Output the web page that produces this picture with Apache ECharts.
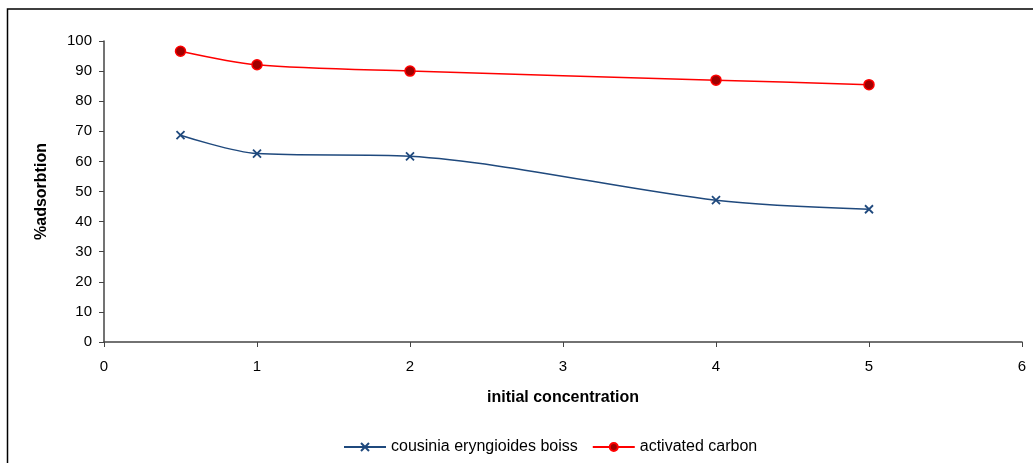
<!DOCTYPE html>
<html>
<head>
<meta charset="utf-8">
<script src="https://cdn.jsdelivr.net/npm/echarts@6/dist/echarts.min.js"></script>
<style>
html,body{margin:0;padding:0;background:#fff;}
#main{width:1033px;height:463px;}
</style>
</head>
<body>
<div id="main"></div>
<script>
var xValues = [0.5, 1, 2, 4, 5];
var cousinia = [68.7, 62.6, 61.7, 47.1, 44.1];
var carbon = [96.6, 92.1, 90.0, 87.0, 85.5];
var seriesNames = ['cousinia eryngioides boiss', 'activated carbon'];

function pairs(xs, ys) {
    var out = [];
    for (var i = 0; i < xs.length; i++) out.push([xs[i], ys[i]]);
    return out;
}

var crossPath = 'path://M0,0L10,10M10,0L0,10';

var chart = echarts.init(document.getElementById('main'));
var option = {
    animation: false,
    textStyle: { fontFamily: 'Liberation Sans, Arial, sans-serif' },
    graphic: [{
        type: 'rect',
        shape: { x: 7.5, y: 9, width: 1040, height: 470 },
        style: { fill: 'none', stroke: '#000', lineWidth: 1.5 }
    }],
    grid: { left: 104, top: 41, right: 11, bottom: 121 },
    legend: {
        bottom: 3,
        left: 338,
        itemWidth: 42,
        itemHeight: 10,
        itemGap: 14,
        textStyle: { fontSize: 16, color: '#000' },
        data: seriesNames
    },
    xAxis: {
        type: 'value',
        min: 0, max: 6, interval: 1,
        name: 'initial concentration',
        nameLocation: 'middle',
        nameGap: 48,
        nameTextStyle: { fontWeight: 'bold', fontSize: 16, color: '#000' },
        axisLine: { lineStyle: { color: '#444', width: 1.5 } },
        axisTick: { show: true, inside: false, length: 5, lineStyle: { color: '#444' } },
        axisLabel: { fontSize: 15, color: '#000', margin: 17 },
        splitLine: { show: false }
    },
    yAxis: {
        type: 'value',
        min: 0, max: 100, interval: 10,
        name: '%adsorbtion',
        nameLocation: 'middle',
        nameGap: 54,
        nameRotate: 90,
        nameTextStyle: { fontWeight: 'bold', fontSize: 16, color: '#000' },
        axisLine: { show: true, lineStyle: { color: '#444', width: 1.5 } },
        axisTick: { show: true, length: 5, lineStyle: { color: '#444' } },
        axisLabel: { fontSize: 15, color: '#000', margin: 12 },
        splitLine: { show: false }
    },
    series: [{
        name: seriesNames[0],
        type: 'line',
        smooth: 0.3,
        data: pairs(xValues, cousinia),
        symbol: crossPath,
        symbolSize: 8,
        lineStyle: { color: '#1F497D', width: 1.5 },
        itemStyle: { color: '#1F497D', borderColor: '#1F497D', borderWidth: 1.8 }
    }, {
        name: seriesNames[1],
        type: 'line',
        smooth: 0.3,
        data: pairs(xValues, carbon),
        symbol: 'circle',
        symbolSize: 10,
        lineStyle: { color: '#FF0000', width: 1.5 },
        itemStyle: { color: '#A00000', borderColor: '#FF0000', borderWidth: 1.5 }
    }]
};
chart.setOption(option);
</script>
</body>
</html>
